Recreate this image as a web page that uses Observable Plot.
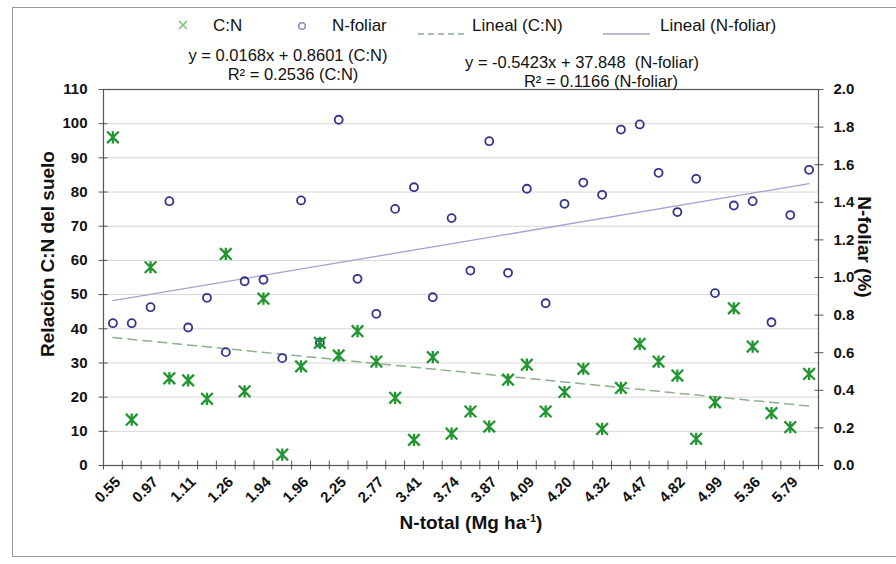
<!DOCTYPE html>
<html>
<head>
<meta charset="utf-8">
<script src="https://cdn.jsdelivr.net/npm/d3@7"></script>
<script src="https://cdn.jsdelivr.net/npm/@observablehq/plot@0.6"></script>
<style>
  html, body { margin: 0; padding: 0; background: #fff; }
  #wrap { position: relative; width: 896px; height: 564px; overflow: hidden; font-family: "Liberation Sans", Arial, sans-serif; color: #111; }
  #border { position: absolute; left: 12px; top: 7px; width: 890px; height: 550px; border: 1.5px solid #9a9a9a; box-sizing: border-box; }
  .t { position: absolute; white-space: nowrap; font-size: 17px; line-height: 1; }
  .b { font-weight: bold; }
  #chart { position: absolute; left: 0; top: 0; }
</style>
</head>
<body>
<div id="wrap">
  <div id="border"></div>
  <div id="chart"></div>
</div>
<script>
// Category tick labels (shown on every other category)
const xLabels = ["0.55","0.97","1.11","1.26","1.94","1.96","2.25","2.77","3.41","3.74","3.87","4.09","4.20","4.32","4.47","4.82","4.99","5.36","5.79"];
// C:N ratio of soil (left axis)
const cn = [96, 13.4, 58.0, 25.5, 24.9, 19.5, 61.9, 21.7, 48.8, 3.2, 29.0, 35.9, 32.2, 39.3, 30.4, 19.8, 7.5, 31.7, 9.3, 15.8, 11.4, 25.1, 29.5, 15.8, 21.5, 28.3, 10.7, 22.7, 35.6, 30.4, 26.3, 7.8, 18.5, 46.0, 34.8, 15.3, 11.2, 26.8];
// N-foliar % (right axis)
const nf = [0.757, 0.757, 0.842, 1.406, 0.734, 0.892, 0.603, 0.980, 0.988, 0.571, 1.410, 0.653, 1.839, 0.993, 0.807, 1.365, 1.480, 0.895, 1.316, 1.037, 1.725, 1.025, 1.472, 0.863, 1.392, 1.505, 1.440, 1.787, 1.814, 1.557, 1.348, 1.525, 0.917, 1.383, 1.406, 0.762, 1.332, 1.573];
const leftTicks = [0,10,20,30,40,50,60,70,80,90,100,110];
const rightTicks = [0,0.2,0.4,0.6,0.8,1.0,1.2,1.4,1.6,1.8,2.0];

const K = 110 / 2.0; // right axis (0–2.0 %) mapped onto left axis (0–110)
const rows = cn.map((v, i) => ({i: i + 1, cn: v, nf: nf[i]}));
const labelRows = xLabels.map((l, k) => ({i: 2 * k + 1, label: l}));
const bounds = d3.range(0, cn.length + 1).map(k => k + 0.5);

const star = {
  draw(ctx, size) {
    const r = Math.sqrt(size / Math.PI);
    ctx.moveTo(-r, -r); ctx.lineTo(r, r);
    ctx.moveTo(-r, r); ctx.lineTo(r, -r);
    ctx.moveTo(0, -r * 1.05); ctx.lineTo(0, r * 1.05);
  }
};

const green = "#229632";
const navy = "#34348f";
const axisColor = "#555";

const plot = Plot.plot({
  width: 896,
  height: 564,
  marginLeft: 103,
  marginRight: 78,
  marginTop: 89,
  marginBottom: 99,
  style: {fontFamily: "'Liberation Sans', Arial, sans-serif", background: "transparent", overflow: "visible"},
  x: {type: "linear", domain: [0.5, cn.length + 0.5], axis: null, label: null},
  y: {domain: [0, 110], axis: null, label: null},
  marks: [
    Plot.gridY(leftTicks.filter(d => d > 0 && d < 110), {stroke: "#d6d6d6", strokeOpacity: 1}),
    Plot.frame({stroke: axisColor, strokeWidth: 1.2}),
    // left axis: crossing ticks + labels
    Plot.axisY(leftTicks, {anchor: "left", label: null, tickSize: 9, dx: 4.5, tickFormat: () => "", stroke: axisColor}),
    Plot.axisY(leftTicks, {anchor: "left", label: null, tickSize: 0, tickPadding: 16, fontSize: 15, fontWeight: "bold", fill: "#111"}),
    // right axis: crossing ticks + labels
    Plot.axisY(rightTicks.map(d => d * K), {anchor: "right", label: null, tickSize: 9, dx: -4.5, tickFormat: () => "", stroke: axisColor}),
    Plot.axisY(rightTicks.map(d => d * K), {anchor: "right", label: null, tickSize: 0, tickPadding: 15, fontSize: 15, fontWeight: "bold", fill: "#111", tickFormat: d => (d / K).toFixed(1)}),
    // x axis: crossing ticks at category boundaries
    Plot.axisX(bounds, {anchor: "bottom", label: null, tickSize: 9, dy: -4.5, tickFormat: () => "", stroke: axisColor}),
    Plot.text(labelRows, {x: "i", y: () => 0, text: "label", rotate: -45, textAnchor: "end", lineAnchor: "middle", dx: 5, dy: 14, fontSize: 15, fontWeight: "bold", fill: "#111"}),
    // trend lines
    Plot.linearRegressionY(rows, {x: "i", y: "cn", stroke: "#8fae8f", strokeWidth: 1.5, strokeDasharray: "9,6", ci: 0}),
    Plot.linearRegressionY(rows, {x: "i", y: d => d.nf * K, stroke: "#a3a3cc", strokeWidth: 1.3, ci: 0}),
    // points
    Plot.dot(rows, {x: "i", y: d => d.nf * K, r: 4, stroke: navy, strokeWidth: 1.8, fill: "none"}),
    Plot.dot(rows, {x: "i", y: "cn", symbol: star, r: 5.8, stroke: green, strokeWidth: 2.3, fill: "none"})
  ]
});
document.getElementById("chart").appendChild(plot);

// Legend, equations and axis titles as HTML text
const wrap = document.getElementById("wrap");
function addText(html, left, top, cls, extra) {
  const el = document.createElement("div");
  el.className = "t " + (cls || "");
  el.innerHTML = html;
  el.style.left = left + "px";
  el.style.top = top + "px";
  if (extra) Object.assign(el.style, extra);
  wrap.appendChild(el);
  return el;
}
function addSvg(svg, left, top) {
  const el = document.createElement("div");
  el.style.position = "absolute";
  el.style.left = left + "px";
  el.style.top = top + "px";
  el.innerHTML = svg;
  wrap.appendChild(el);
}
// legend
addSvg(`<svg width="14" height="14"><path d="M3,3L11,11M3,11L11,3" stroke="#7fbf7f" stroke-width="1.6"/></svg>`, 176, 18);
addText("C:N", 213, 17);
addSvg(`<svg width="14" height="14"><circle cx="7" cy="7" r="3.3" fill="none" stroke="#8a8ac4" stroke-width="1.5"/></svg>`, 295, 19);
addText("N-foliar", 332, 17);
addSvg(`<svg width="52" height="6"><line x1="0" y1="3" x2="50" y2="3" stroke="#8fa88f" stroke-width="1.3" stroke-dasharray="6,4"/></svg>`, 418, 23);
addText("Lineal (C:N)", 472, 17);
addSvg(`<svg width="50" height="6"><line x1="0" y1="3" x2="47" y2="3" stroke="#a3a3cc" stroke-width="1.3"/></svg>`, 603, 23);
addText("Lineal (N-foliar)", 660, 17);
// equations
addText("y = 0.0168x + 0.8601 (C:N)", 288, 47, "", {transform: "translateX(-50%)", fontSize: "16.5px"});
addText("R² = 0.2536 (C:N)", 293, 66, "", {transform: "translateX(-50%)", fontSize: "16.5px"});
addText("y = -0.5423x + 37.848&nbsp; (N-foliar)", 582, 54, "", {transform: "translateX(-50%)", fontSize: "16.5px"});
addText("R² = 0.1166 (N-foliar)", 601, 73, "", {transform: "translateX(-50%)", fontSize: "16.5px"});
// axis titles
addText("Relación C:N del suelo", 47, 254, "b", {fontSize: "19px", transform: "translate(-50%,-50%) rotate(-90deg)"});
addText("N-foliar (%)", 864, 247, "b", {fontSize: "19px", transform: "translate(-50%,-50%) rotate(90deg)"});
addText("N-total (Mg ha<sup style='font-size:11px;vertical-align:7px'>-1</sup>)", 471, 522, "b", {fontSize: "19px", transform: "translate(-50%,-50%)"});
</script>
</body>
</html>
